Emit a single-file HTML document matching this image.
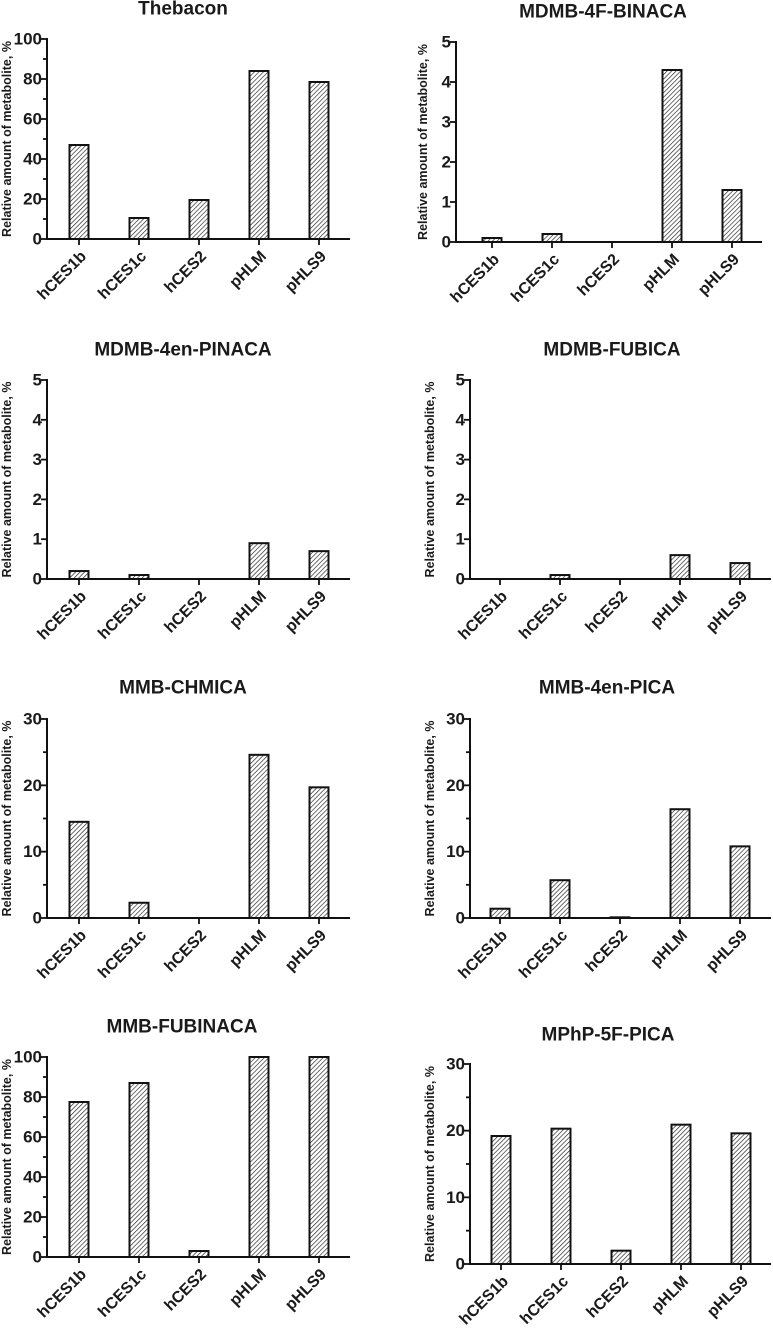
<!DOCTYPE html>
<html><head><meta charset="utf-8"><style>
html,body{margin:0;padding:0;background:#fff}
svg{display:block}
text{font-family:"Liberation Sans",Arial,sans-serif;font-weight:bold;fill:#1a1a1a}
</style></head><body>
<svg id="chart" width="773" height="1328" viewBox="0 0 773 1328" xmlns="http://www.w3.org/2000/svg">
<defs>
<pattern id="hatch" patternUnits="userSpaceOnUse" width="3.2" height="3.2" patternTransform="rotate(45)">
<rect width="3.2" height="3.2" fill="#fff"/>
<line x1="0" y1="0" x2="0" y2="3.2" stroke="#222" stroke-width="1.3"/>
</pattern>
</defs>
</svg>
<script>
const categories = ["hCES1b","hCES1c","hCES2","pHLM","pHLS9"];
const titles = ["Thebacon","MDMB-4F-BINACA","MDMB-4en-PINACA","MDMB-FUBICA","MMB-CHMICA","MMB-4en-PICA","MMB-FUBINACA","MPhP-5F-PICA"];
const thebacon = [47, 10.5, 19.5, 84, 78.5];
const mdmb4fBinaca = [0.1, 0.2, 0, 4.3, 1.3];
const mdmb4enPinaca = [0.2, 0.1, 0, 0.9, 0.7];
const mdmbFubica = [0, 0.1, 0, 0.6, 0.4];
const mmbChmica = [14.5, 2.3, 0, 24.6, 19.7];
const mmb4enPica = [1.4, 5.7, 0.1, 16.4, 10.8];
const mmbFubinaca = [77.5, 87, 3, 100, 100];
const mphp5fPica = [19.2, 20.3, 2, 20.9, 19.6];
const yMaxes = [100, 5, 5, 5, 30, 30, 100, 30];
const yMajorSteps = [20, 1, 1, 1, 10, 10, 20, 10];
const yMinorSteps = [10, 0, 0, 0, 5, 5, 10, 5];
const seriesList = [thebacon, mdmb4fBinaca, mdmb4enPinaca, mdmbFubica, mmbChmica, mmb4enPica, mmbFubinaca, mphp5fPica];

// layout (pixels)
const layouts = [
 {ax:47, top:39, bot:239, xEnd:350, c0:79, tx:183, ty:9, ytx:7},
 {ax:456, top:42, bot:242, xEnd:762, c0:492, tx:603, ty:12, ytx:423},
 {ax:47, top:380, bot:579, xEnd:350, c0:79, tx:183, ty:350, ytx:7},
 {ax:470, top:380, bot:579, xEnd:771, c0:500, tx:612, ty:350, ytx:430},
 {ax:47, top:719, bot:918, xEnd:350, c0:79, tx:183, ty:688, ytx:7},
 {ax:470, top:719, bot:918, xEnd:771, c0:500, tx:607, ty:688, ytx:430},
 {ax:47, top:1057, bot:1257, xEnd:350, c0:79, tx:182, ty:1027, ytx:7},
 {ax:470, top:1064, bot:1264, xEnd:771, c0:501, tx:608, ty:1035, ytx:430}
];
const svg = document.getElementById('chart');
const NS = 'http://www.w3.org/2000/svg';
function mk(tag, attrs, parent){const e=document.createElementNS(NS,tag);for(const k in attrs)e.setAttribute(k,attrs[k]);(parent||svg).appendChild(e);return e;}

seriesList.forEach((vals, p) => {
  const L = layouts[p];
  const g = mk('g', {});
  
  
  const yScale = v => L.bot - (v / yMaxes[p]) * (L.bot - L.top);
  const xScale = i => L.c0 + i * 60;

  const t = mk('text', {x:L.tx, y:L.ty, 'font-size':19, 'text-anchor':'middle', 'dominant-baseline':'central'}, g);
  t.textContent = titles[p];
  
  

  const ym = (L.top + L.bot) / 2;
  const yt = mk('text', {x:L.ytx, y:ym, 'font-size':12.5, 'text-anchor':'middle', 'dominant-baseline':'central', transform:`rotate(-90 ${L.ytx} ${ym})`}, g);
  yt.textContent = 'Relative amount of metabolite, %';
  
  

  vals.forEach((v, i) => {
    const y = yScale(v);
    const h = L.bot - y;
    if (h <= 0.3) return;
    const r = mk('rect', {x:xScale(i) - 9.5, y:y, width:19, height:h, fill:'url(#hatch)', stroke:'#111', 'stroke-width':2}, g);
    
    
  });

  if (yMinorSteps[p]) {
    for (let v = yMinorSteps[p]; v < yMaxes[p]; v += yMajorSteps[p]) {
      mk('line', {x1:L.ax - 4, x2:L.ax, y1:yScale(v), y2:yScale(v), stroke:'#111', 'stroke-width':1.8}, g);
    }
  }
  for (let v = 0; v <= yMaxes[p] + 1e-9; v += yMajorSteps[p]) {
    const y = yScale(v);
    mk('line', {x1:L.ax - 6, x2:L.ax, y1:y, y2:y, stroke:'#111', 'stroke-width':1.8}, g);
    const tl = mk('text', {x:L.ax - 5, y:y, 'font-size':17, 'text-anchor':'end', 'dominant-baseline':'central'}, g);
    tl.textContent = String(v);
    
    
  }
  const ya = mk('line', {x1:L.ax, x2:L.ax, y1:L.top - 1, y2:L.bot + 1, stroke:'#111', 'stroke-width':2}, g);
  
  
  const xa = mk('line', {x1:L.ax - 1, x2:L.xEnd, y1:L.bot, y2:L.bot, stroke:'#111', 'stroke-width':2}, g);
  
  

  categories.forEach((c, i) => {
    const x = xScale(i);
    mk('line', {x1:x, x2:x, y1:L.bot, y2:L.bot + 6, stroke:'#111', 'stroke-width':1.8}, g);
    const ex = x + 5, ey = L.bot + 15;
    const cl = mk('text', {x:ex, y:ey, 'font-size':16, 'text-anchor':'end', 'dominant-baseline':'central', transform:`rotate(-45 ${ex} ${ey})`}, g);
    cl.textContent = c;
    
    
  });
});
</script>
</body></html>
